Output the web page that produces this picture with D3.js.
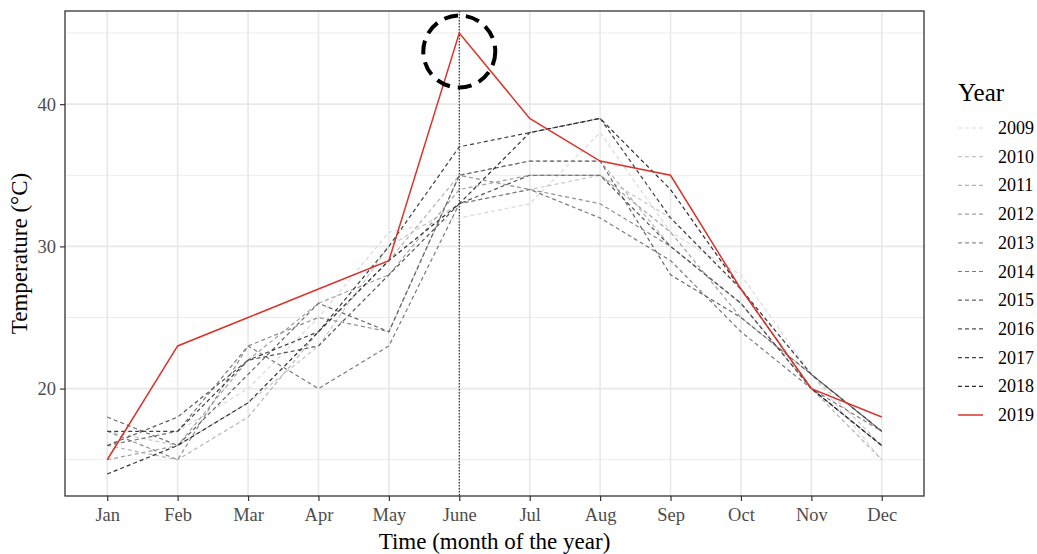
<!DOCTYPE html>
<html>
<head>
<meta charset="utf-8">
<script src="https://cdn.jsdelivr.net/npm/d3@7"></script>
<style>
  body { margin: 0; background: #fff; }
  text { font-family: "Liberation Serif", "Times New Roman", serif; }
</style>
</head>
<body>
<div id="chart"></div>
<script>
// month categories on the x axis
const months = ["Jan", "Feb", "Mar", "Apr", "May", "June", "Jul", "Aug", "Sep", "Oct", "Nov", "Dec"];

// monthly temperatures (°C)
const years = ["2009", "2010", "2011", "2012", "2013", "2014", "2015", "2016", "2017", "2018", "2019"];
const t2009 = [16, 17, 20, 25, 31, 32, 33, 38, 31, 28, 21, 15];
const t2010 = [17, 16, 19, 23, 30, 33, 34, 35, 32, 27, 21, 16];
const t2011 = [16, 15, 18, 24, 29, 35, 36, 36, 30, 26, 20, 15];
const t2012 = [15, 16, 22, 26, 28, 34, 35, 35, 31, 25, 21, 17];
const t2013 = [17, 15, 23, 25, 24, 35, 34, 33, 30, 26, 20, 16];
const t2014 = [16, 17, 23, 20, 23, 33, 34, 32, 29, 24, 20, 17];
const t2015 = [18, 16, 21, 26, 24, 35, 36, 36, 28, 25, 21, 17];
const t2016 = [16, 18, 22, 23, 28, 33, 35, 35, 30, 26, 20, 16];
const t2017 = [17, 17, 22, 24, 30, 37, 38, 39, 32, 27, 21, 17];
const t2018 = [14, 16, 19, 24, 29, 33, 38, 39, 34, 27, 20, 16];
const t2019 = [15, 23, 25, 27, 29, 45, 39, 36, 35, 27, 20, 18];
const seriesValues = [t2009, t2010, t2011, t2012, t2013, t2014, t2015, t2016, t2017, t2018, t2019];

// axis ticks
const yTicks = [20, 30, 40];
const yMinor = [15, 25, 35, 45];

// highlighted month and circle annotation
const markMonth = "June";
const markValue = 43.7;

const width = 1037, height = 554;
const panel = { left: 65, right: 924, top: 11, bottom: 496 };

const svg = d3.select("#chart").append("svg")
    .attr("width", width)
    .attr("height", height);

// scales (ggplot-like expansion: 5% continuous, 0.6 discrete)
const yMin = d3.min(seriesValues.flat()), yMax = d3.max(seriesValues.flat());
const pad = (yMax - yMin) * 0.05;
const y = d3.scaleLinear()
    .domain([yMin - pad, yMax + pad])
    .range([panel.bottom, panel.top]);

const x = d3.scalePoint()
    .domain(months)
    .range([panel.left, panel.right])
    .padding(0.6);

// grey ramp from light (2009) to dark (2018), red for 2019
const greyScale = d3.scaleLinear().domain([0, 9]).range(["#dadada", "#2e2e2e"]);
const colorOf = (i) => years[i] === "2019" ? "#d9342b" : greyScale(i);

// grid
const grid = svg.append("g");
grid.selectAll(".minor")
    .data(yMinor)
    .join("line")
    .attr("x1", panel.left).attr("x2", panel.right)
    .attr("y1", d => y(d)).attr("y2", d => y(d))
    .attr("stroke", "#ececec")
    .attr("stroke-width", 1);
grid.selectAll(".major-y")
    .data(yTicks)
    .join("line")
    .attr("x1", panel.left).attr("x2", panel.right)
    .attr("y1", d => y(d)).attr("y2", d => y(d))
    .attr("stroke", "#e8e8e8")
    .attr("stroke-width", 1.6);
grid.selectAll(".major-x")
    .data(months)
    .join("line")
    .attr("x1", d => x(d)).attr("x2", d => x(d))
    .attr("y1", panel.top).attr("y2", panel.bottom)
    .attr("stroke", "#e8e8e8")
    .attr("stroke-width", 1.6);

// vertical dotted marker at June
svg.append("line")
    .attr("x1", x(markMonth)).attr("x2", x(markMonth))
    .attr("y1", panel.top).attr("y2", panel.bottom)
    .attr("stroke", "#111")
    .attr("stroke-width", 1)
    .attr("stroke-dasharray", "1.5,1.5");

// series lines
const line = d3.line()
    .x((d, i) => x(months[i]))
    .y(d => y(d));

svg.append("g")
    .selectAll("path")
    .data(seriesValues)
    .join("path")
    .attr("d", line)
    .attr("fill", "none")
    .attr("stroke", (d, i) => colorOf(i))
    .attr("stroke-width", (d, i) => years[i] === "2019" ? 1.5 : 1.2)
    .attr("stroke-dasharray", (d, i) => years[i] === "2019" ? null : "4,3");

// dashed circle annotation
svg.append("circle")
    .attr("cx", x(markMonth))
    .attr("cy", y(markValue))
    .attr("r", 36)
    .attr("fill", "none")
    .attr("stroke", "#000")
    .attr("stroke-width", 4)
    .attr("stroke-dasharray", "14,8");

// panel border
svg.append("rect")
    .attr("x", panel.left).attr("y", panel.top)
    .attr("width", panel.right - panel.left)
    .attr("height", panel.bottom - panel.top)
    .attr("fill", "none")
    .attr("stroke", "#333")
    .attr("stroke-width", 1.3);

// axes
const yAxis = svg.append("g")
    .attr("transform", `translate(${panel.left},0)`)
    .call(d3.axisLeft(y).tickValues(yTicks).tickSize(5).tickPadding(4));
const xAxis = svg.append("g")
    .attr("transform", `translate(0,${panel.bottom})`)
    .call(d3.axisBottom(x).tickSize(5).tickPadding(7));
[yAxis, xAxis].forEach(ax => {
    ax.select(".domain").remove();
    ax.selectAll(".tick line").attr("stroke", "#333").attr("stroke-width", 1.2);
    ax.selectAll(".tick text")
        .attr("fill", "#4d4d4d")
        .style("font-family", "'Liberation Serif', serif")
        .style("font-size", "18.5px");
});

// axis titles
svg.append("text")
    .attr("x", (panel.left + panel.right) / 2)
    .attr("y", 549)
    .attr("text-anchor", "middle")
    .attr("font-size", "23px")
    .attr("fill", "#000")
    .text("Time (month of the year)");

svg.append("text")
    .attr("transform", `translate(27,${(panel.top + panel.bottom) / 2}) rotate(-90)`)
    .attr("text-anchor", "middle")
    .attr("font-size", "23px")
    .attr("fill", "#000")
    .text("Temperature (°C)");

// legend
const legend = svg.append("g");
legend.append("text")
    .attr("x", 958)
    .attr("y", 101)
    .attr("font-size", "25px")
    .attr("fill", "#000")
    .text("Year");

const item = legend.selectAll(".item")
    .data(years)
    .join("g")
    .attr("transform", (d, i) => `translate(0,${128 + i * 28.7})`);
item.append("line")
    .attr("x1", 958).attr("x2", 983)
    .attr("y1", 0).attr("y2", 0)
    .attr("stroke", (d, i) => colorOf(i))
    .attr("stroke-width", (d, i) => d === "2019" ? 1.5 : 1.2)
    .attr("stroke-dasharray", d => d === "2019" ? null : "4,3");
item.append("text")
    .attr("x", 998)
    .attr("y", 6)
    .attr("font-size", "18px")
    .attr("fill", "#000")
    .text(d => d);
</script>
</body>
</html>
